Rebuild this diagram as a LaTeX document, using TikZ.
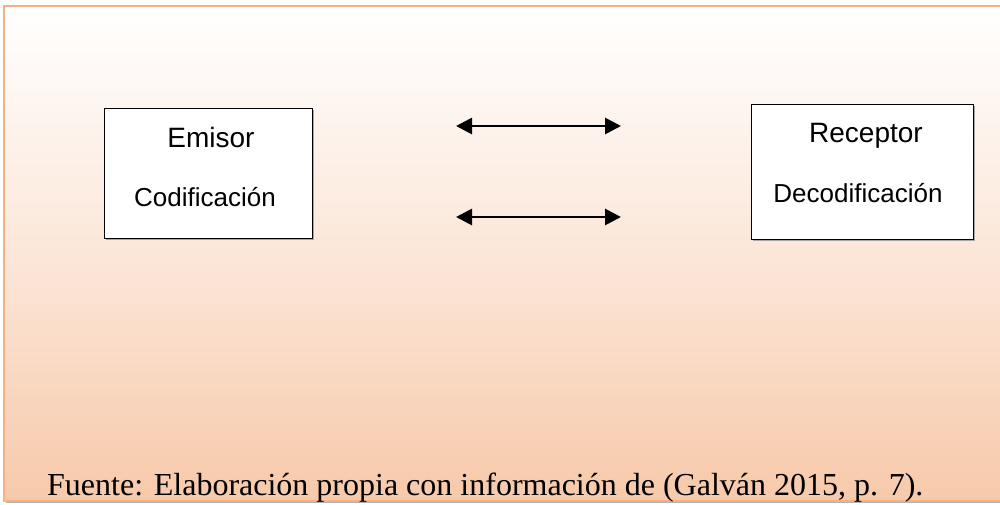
\documentclass[tikz,border=0pt]{standalone}
\usepackage{fontspec}
\setmainfont{Liberation Serif}
\newfontfamily\arialfont{Liberation Sans}
\usetikzlibrary{arrows.meta}
\definecolor{frameline}{HTML}{F4B183}
\definecolor{framebottom}{HTML}{F7C9AA}
\definecolor{frametop}{HTML}{FFFFFF}
\tikzset{
  box/.style={draw=black, line width=1.3pt, fill=white, anchor=north west, inner sep=0pt},
  boxshadow/.style={fill=black!35},
  label1/.style={anchor=base, font=\arialfont\fontsize{28}{30}\selectfont, inner sep=0pt},
  label2/.style={anchor=base, font=\arialfont\fontsize{26}{28}\selectfont, inner sep=0pt},
  dblarrow/.style={line width=2.8pt, {Triangle[length=16pt,width=16pt]}-{Triangle[length=16pt,width=16pt]}},
  source/.style={anchor=base west, font=\fontsize{32}{34}\selectfont, inner sep=0pt}
}
\begin{document}
\begin{tikzpicture}[x=1pt,y=-1pt]
\useasboundingbox (0,0) rectangle (1000,504);
% frame with gradient
\fill[black!30] (6,8) rectangle (1004,503);
\shade[top color=frametop, bottom color=framebottom, middle color=framebottom!45!white] (4,6) rectangle (1002,501);
\draw[frameline, line width=2pt] (1002,6) -- (4,6) -- (4,501) -- (1002,501);
% shadows of boxes
\fill[boxshadow] (106,110) rectangle (314,240);
\fill[boxshadow] (753,106) rectangle (975,241);
% boxes
\node[box, minimum width=208pt, minimum height=130pt] (emisor) at (104,108) {};
\node[box, minimum width=222pt, minimum height=135pt] (receptor) at (751,104) {};
% labels
\node[label1] (emisorT) at (211,147) {Emisor};
\node[label2] (codif) at (205,206) {Codificación};
\node[label1] (receptorT) at (866,142) {Receptor};
\node[label2] (decodif) at (858,202) {Decodificación};
% arrows
\coordinate (a1l) at (456,126);
\coordinate (a1r) at (621,126);
\coordinate (a2l) at (456,217);
\coordinate (a2r) at (621,217);
\draw[dblarrow] (a1l) -- (a1r);
\draw[dblarrow] (a2l) -- (a2r);
% source
\node[source] (fuente) at (47,495) {Fuente: Elaboración propia con información de (Galván 2015, p. 7).};
\end{tikzpicture}
\end{document}
